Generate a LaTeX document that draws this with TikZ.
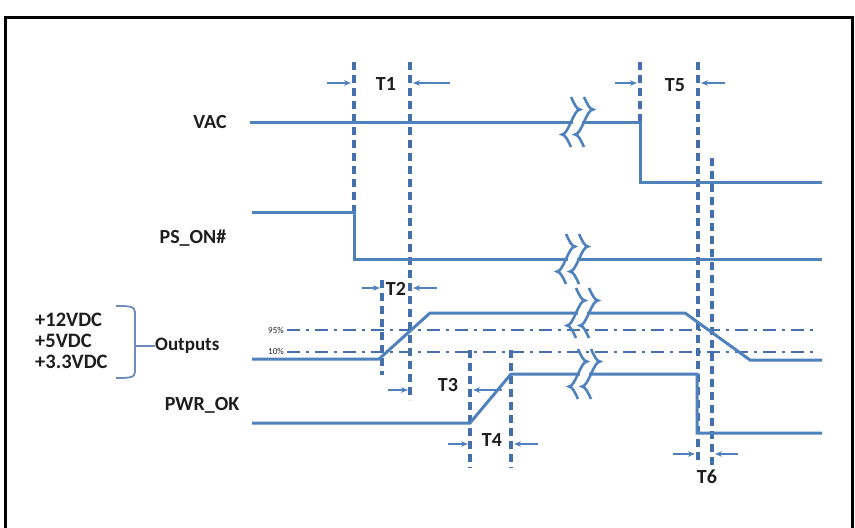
\documentclass[tikz,border=0pt]{standalone}
\usepackage{fontspec}
\setmainfont{Carlito}
\usetikzlibrary{arrows.meta}
\definecolor{sigblue}{RGB}{79,129,189}
\definecolor{guideblue}{RGB}{70,112,172}
\definecolor{brk}{RGB}{110,140,185}
\definecolor{txt}{RGB}{30,30,30}
\begin{document}
\begin{tikzpicture}[x=1pt,y=-1pt,
  sig/.style={draw=sigblue,line width=3pt,line join=miter},
  guide/.style={draw=guideblue,line width=3.2pt,dash pattern=on 8pt off 5pt},
  level/.style={draw=guideblue,line width=2.8pt,dash pattern=on 13pt off 6pt on 3pt off 6pt},
  dim/.style={draw=sigblue,line width=1.3pt,-{Stealth[length=7pt,width=5.5pt]}},
  lbl/.style={inner sep=0pt,text=txt,font=\fontsize{20}{22}\selectfont\bfseries},
  vlbl/.style={inner sep=0pt,text=txt,anchor=west,font=\fontsize{20.5}{22}\selectfont\bfseries},
  pct/.style={inner sep=0pt,text=txt,font=\fontsize{9}{10}\selectfont},
  squig/.pic={
    \fill[white] (2,-3.5) rectangle (11,3.5);
    \draw[sigblue,line width=2.6pt] (0,-25) sin (9,-12.5) cos (0,0) sin (-9,12.5) cos (0,25);
    \draw[sigblue,line width=2.6pt] (13,-25) sin (22,-12.5) cos (13,0) sin (4,12.5) cos (13,25);
  }]
\useasboundingbox (0,0) rectangle (855,528);
\fill[white] (0,0) rectangle (855,528);
% frame
\draw[line width=3pt] (5,528) -- (5,17) -- (852,17) -- (852,528);

% level lines
\node[pct] (p95) at (276,330) {95\%};
\node[pct] (p10) at (276,351) {10\%};
\coordinate (l95e) at (815,330);
\coordinate (l10e) at (815,352);
\draw[level] (p95.east) ++(3,0) -- (l95e);
\draw[level] (p10.east) ++(3,1) -- (l10e);

% guide lines
\draw[guide] (354,62) -- (354,212);
\draw[guide] (410,62) -- (410,400);
\draw[guide] (382,280) -- (382,375);
\draw[guide] (470,350) -- (470,468);
\draw[guide] (511,350) -- (511,468);
\draw[guide] (640,62) -- (640,122);
\draw[guide] (698,62) -- (698,465);
\draw[guide] (712,158) -- (712,465);

% signals
\draw[sig] (250,122) -- (640,122) -- (640,182) -- (822,182);
\draw[sig] (252,212) -- (354,212) -- (354,259) -- (822,259);
\draw[sig] (252,359) -- (379,359) -- (430,313) -- (685,313) -- (750,360) -- (822,360);
\draw[sig] (252,423) -- (470,423) -- (511,374) -- (697,374) -- (697,433) -- (822,433);

% breaks
\pic at (571,122) {squig};
\pic at (566,259) {squig};
\pic at (576,313) {squig};
\pic at (578,374) {squig};

% signal labels
\node[lbl] (vac) at (210,122) {VAC};
\node[lbl] (pson) at (193,238) {PS\_ON\#};
\node[lbl] (pwrok) at (202,405) {PWR\_OK};
\node[vlbl] (v12) at (35,320) {+12VDC};
\node[vlbl] (v5) at (35,341) {+5VDC};
\node[vlbl] (v33) at (35,362) {+3.3VDC};
\node[inner sep=0pt,text=txt,anchor=west,font=\fontsize{19}{21}\selectfont\bfseries] (outs) at (155,346) {Outputs};
\draw[brk,line width=1.8pt] (116,306) .. controls (128,306) and (135,306) .. (135,312) -- (135,372) .. controls (135,378) and (128,378) .. (116,378);
\draw[brk,line width=1.8pt] (135,346) -- (outs.west);

% timing labels and arrows
\node[lbl] (t1) at (386,84) {T1};
\draw[dim] (327,83) -- (351,83);
\draw[dim] (450,83) -- (413,83);
\node[lbl] (t2) at (396,289) {T2};
\draw[dim] (362,288) -- (380,288);
\draw[dim] (437,288) -- (413,288);
\node[lbl] (t3) at (448,385) {T3};
\draw[dim] (388,390) -- (408,390);
\draw[dim] (502,390) -- (473,390);
\node[lbl] (t4) at (492,440) {T4};
\draw[dim] (448,444) -- (468,444);
\draw[dim] (538,444) -- (514,444);
\node[lbl] (t5) at (675,85) {T5};
\draw[dim] (615,83) -- (637,83);
\draw[dim] (725,83) -- (701,83);
\node[lbl] (t6) at (707,477) {T6};
\draw[dim] (673,454) -- (695,454);
\draw[dim] (738,454) -- (715,454);
\end{tikzpicture}
\end{document}
